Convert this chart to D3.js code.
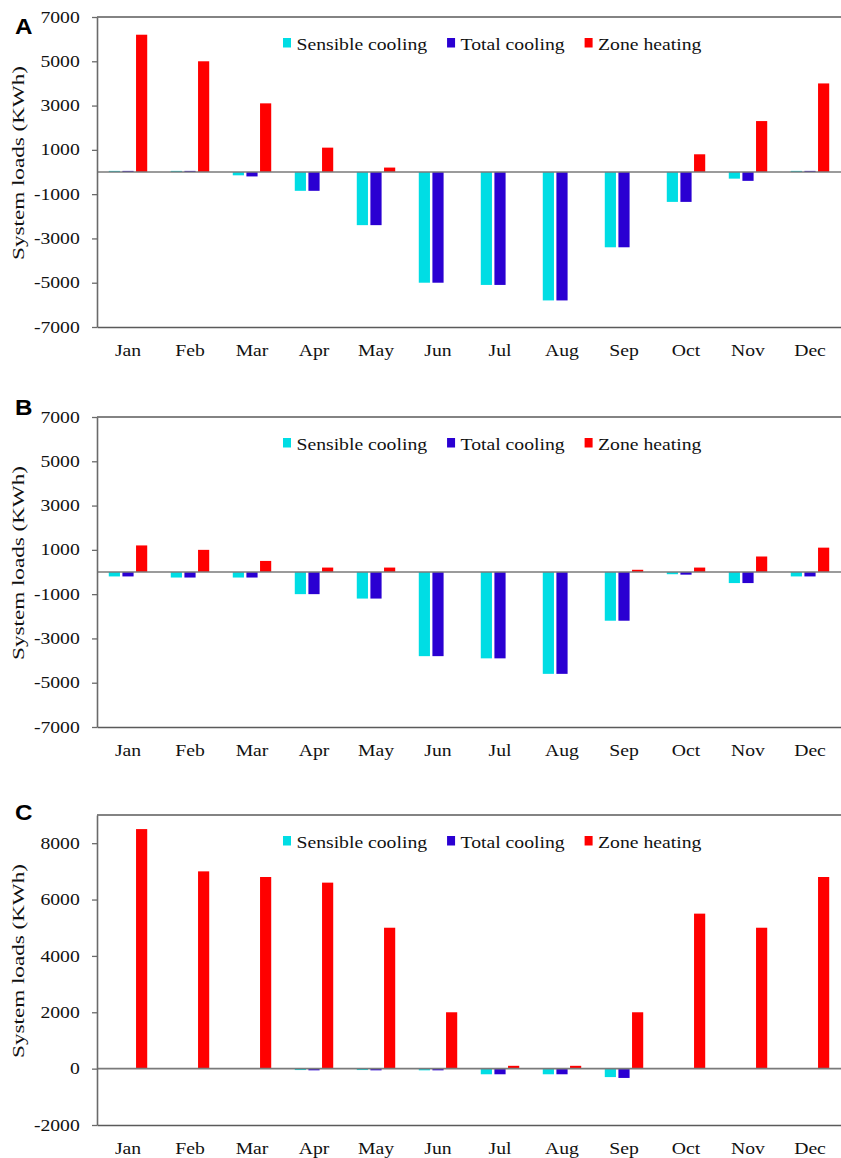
<!DOCTYPE html>
<html>
<head>
<meta charset="utf-8">
<script src="https://cdn.jsdelivr.net/npm/d3@7"></script>
<style>
  body { margin: 0; background: #fff; }
  svg { display: block; }
  text { font-family: "Liberation Serif", "Times New Roman", serif; fill: #111; }
  .letter { font-family: "Liberation Sans", Arial, sans-serif; font-weight: bold; font-size: 22px; fill: #000; }
</style>
</head>
<body>
<svg id="chart"></svg>
<script>
const months = ["Jan", "Feb", "Mar", "Apr", "May", "Jun", "Jul", "Aug", "Sep", "Oct", "Nov", "Dec"];
const seriesNames = ["Sensible cooling", "Total cooling", "Zone heating"];
const seriesColors = ["#00dde4", "#2a00d2", "#ff0000"];

// panel A
const sensibleA = [50, 50, -150, -850, -2400, -5000, -5100, -5800, -3400, -1350, -300, 50];
const totalA = [50, 50, -200, -850, -2400, -5000, -5100, -5800, -3400, -1350, -400, 50];
const heatingA = [6200, 5000, 3100, 1100, 200, 0, 0, 0, 0, 800, 2300, 4000];

// panel B
const sensibleB = [-200, -250, -250, -1000, -1200, -3800, -3900, -4600, -2200, -100, -500, -200];
const totalB = [-200, -250, -250, -1000, -1200, -3800, -3900, -4600, -2200, -120, -500, -200];
const heatingB = [1200, 1000, 500, 200, 200, 0, 0, 0, 100, 200, 700, 1100];

// panel C
const sensibleC = [0, 0, 0, -50, -50, -60, -200, -200, -300, 0, 0, 0];
const totalC = [0, 0, 0, -60, -60, -60, -200, -200, -330, 0, 0, 0];
const heatingC = [8500, 7000, 6800, 6600, 5000, 2000, 100, 100, 2000, 5500, 5000, 6800];

const ticksAB = [-7000, -5000, -3000, -1000, 1000, 3000, 5000, 7000];
const ticksC = [-2000, 0, 2000, 4000, 6000, 8000];

const WIDTH = 841;
const HEIGHT = 1158;
const LEFT = 97;
const RIGHT = 841;
const PLOT_H = 310;
const STRETCH = 1.23; // the source picture is stretched sideways

const panels = [
  { letter: "A", top: 17, letterY: 34, domain: [-7000, 7000], ticks: ticksAB, values: [sensibleA, totalA, heatingA] },
  { letter: "B", top: 417, letterY: 415, domain: [-7000, 7000], ticks: ticksAB, values: [sensibleB, totalB, heatingB] },
  { letter: "C", top: 815, letterY: 820, domain: [-2000, 9000], ticks: ticksC, values: [sensibleC, totalC, heatingC] },
];

const svg = d3.select("#chart").attr("width", WIDTH).attr("height", HEIGHT);

const x = d3.scaleBand().domain(months).range([LEFT, RIGHT]).padding(0);
const xInner = d3
  .scaleBand()
  .domain(seriesNames)
  .range([x.bandwidth() * 0.19, x.bandwidth() * 0.81])
  .paddingInner(0.18);

function drawPanel(p) {
  const g = svg.append("g");
  const y = d3.scaleLinear().domain(p.domain).range([p.top + PLOT_H, p.top]);

  // bars
  p.values.forEach((vals, si) => {
    g.append("g")
      .selectAll("rect")
      .data(vals)
      .enter()
      .append("rect")
      .attr("x", (d, i) => x(months[i]) + xInner(seriesNames[si]))
      .attr("width", xInner.bandwidth())
      .attr("y", (d) => Math.min(y(d), y(0)))
      .attr("height", (d) => Math.abs(y(d) - y(0)))
      .attr("fill", seriesColors[si]);
  });

  // zero line
  g.append("line")
    .attr("x1", LEFT).attr("x2", RIGHT)
    .attr("y1", y(0)).attr("y2", y(0))
    .attr("stroke", "#7a7a7a").attr("stroke-width", 1.6);

  // top frame
  g.append("line")
    .attr("x1", LEFT).attr("x2", RIGHT)
    .attr("y1", p.top).attr("y2", p.top)
    .attr("stroke", "#5a5a5a").attr("stroke-width", 1.6);

  // y axis, plain hyphen for negatives like the source
  const yAxis = g.append("g")
    .attr("transform", `translate(${LEFT},0)`)
    .call(d3.axisLeft(y).tickValues(p.ticks).tickFormat((d) => String(d)).tickSize(5).tickSizeOuter(0).tickPadding(9));
  yAxis.select(".domain").attr("stroke", "#6a6a6a").attr("stroke-width", 1.6);
  yAxis.selectAll(".tick line").attr("stroke", "#6a6a6a").attr("stroke-width", 1.3);
  yAxis.selectAll(".tick text")
    .attr("font-size", 16)
    .attr("font-family", "Liberation Serif, Times New Roman, serif")
    .attr("fill", "#111")
    .attr("transform", `scale(${STRETCH},1)`);

  // x axis at the bottom of the frame
  const xAxis = g.append("g")
    .attr("transform", `translate(0,${p.top + PLOT_H})`)
    .call(d3.axisBottom(x).tickSize(0).tickPadding(18));
  xAxis.select(".domain").attr("stroke", "#5a5a5a").attr("stroke-width", 1.6);
  xAxis.selectAll(".tick text")
    .attr("font-size", 16)
    .attr("font-family", "Liberation Serif, Times New Roman, serif")
    .attr("fill", "#111")
    .attr("transform", `scale(${STRETCH},1)`);

  // y title
  g.append("text")
    .attr("transform", `translate(24,${p.top + PLOT_H / 2 - 9}) rotate(-90) scale(1.36,1)`)
    .attr("text-anchor", "middle")
    .attr("font-size", 17)
    .text("System loads (KWh)");

  // panel letter
  g.append("text")
    .attr("class", "letter")
    .attr("transform", `translate(15,${p.letterY}) scale(1.1,1)`)
    .text(p.letter);

  // legend
  const legend = g.append("g").attr("transform", `translate(283,${p.top + 33})`);
  let cursor = 0;
  seriesNames.forEach((name, si) => {
    legend.append("rect")
      .attr("x", cursor).attr("y", -12)
      .attr("width", 8).attr("height", 9.5)
      .attr("fill", seriesColors[si]);
    const t = legend.append("text")
      .attr("transform", `translate(${cursor + 13.5},0) scale(${STRETCH},1)`)
      .attr("font-size", 16)
      .text(name);
    cursor += 13.5 + t.node().getComputedTextLength() * STRETCH + 20;
  });
}

panels.forEach(drawPanel);
</script>
</body>
</html>
